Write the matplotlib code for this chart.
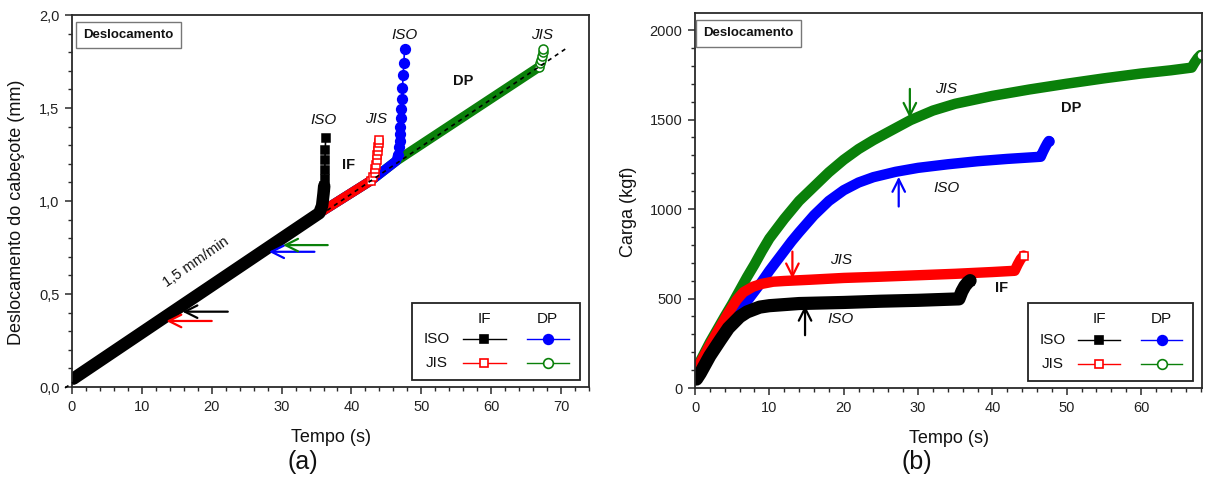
import matplotlib
matplotlib.use('Agg')
import matplotlib.pyplot as plt
from matplotlib.patches import Rectangle
from matplotlib.ticker import MultipleLocator, FuncFormatter

plt.rcParams['font.family'] = ['Liberation Sans', 'DejaVu Sans']

# cores das series
COR_IF_ISO = '#000000'
COR_IF_JIS = '#ff0000'
COR_DP_ISO = '#0000ff'
COR_DP_JIS = '#0a800a'

# ---- (a) deslocamento do cabecote x tempo ----
# IF / ISO
a_if_iso_t = [0.2, 35.4, 35.8, 36.0, 36.1, 36.15, 36.2, 36.2, 36.25, 36.3]
a_if_iso_d = [0.045, 0.935, 0.975, 1.04, 1.08, 1.118, 1.166, 1.22, 1.274, 1.337]
a_if_iso_n = 5      # pontos da faixa (antes dos marcadores)
# IF / JIS
a_if_jis_t = [0.2, 35.4, 42.8, 43.1, 43.3, 43.4, 43.5, 43.6, 43.7, 43.8, 43.85, 43.9, 44.0]
a_if_jis_d = [0.045, 0.935, 1.11, 1.13, 1.15, 1.17, 1.195, 1.22, 1.245, 1.27, 1.29, 1.31, 1.33]
a_if_jis_n = 3
# DP / ISO
a_dp_iso_t = [0.2, 35.4, 42.8, 46.4, 46.7, 46.8, 46.9, 47.0, 47.0, 47.1, 47.15, 47.2, 47.3, 47.4, 47.5, 47.6]
a_dp_iso_d = [0.045, 0.935, 1.11, 1.215, 1.25, 1.288, 1.324, 1.36, 1.40, 1.447, 1.496, 1.55, 1.609, 1.676, 1.744, 1.816]
a_dp_iso_n = 5
# DP / JIS
a_dp_jis_t = [0.2, 35.4, 42.8, 46.4, 66.9, 67.05, 67.15, 67.25, 67.35, 67.4]
a_dp_jis_d = [0.045, 0.935, 1.11, 1.215, 1.722, 1.74, 1.76, 1.78, 1.80, 1.815]
a_dp_jis_n = 5
# reta de 1,5 mm/min
a_ref_t = [-1.0, 70.8]
a_ref_d = [-0.005, 1.822]

# ---- (b) carga x tempo ----
b_if_iso_t = [0.2, 0.7, 2.0, 3.4, 4.5, 6.0, 7.0, 8.7, 10.0, 12.0, 14.0, 20.0, 25.0, 30.0, 35.5, 35.9, 36.3, 36.7, 37.0]
b_if_iso_c = [50, 82, 180, 268, 335, 398, 425, 452, 460, 466, 472, 478, 485, 490, 498, 540, 570, 590, 600]

b_if_jis_t = [0.2, 0.7, 2.0, 3.4, 4.5, 5.6, 6.5, 7.8, 9.0, 10.5, 12.0, 15.5, 20.0, 25.0, 30.0, 35.0, 40.0, 43.0, 43.4, 43.8, 44.2]
b_if_jis_c = [110, 140, 240, 342, 420, 492, 535, 566, 582, 594, 598, 605, 615, 622, 630, 638, 648, 655, 690, 720, 740]

b_dp_iso_t = [0.3, 2, 4, 5, 6, 7, 8, 9, 10, 11, 12, 13, 14, 16, 18, 20, 22, 24, 27, 30, 34, 38, 42, 46.5, 46.8, 47.1, 47.4, 47.6]
b_dp_iso_c = [60, 190, 320, 380, 436, 485, 540, 595, 655, 710, 765, 820, 870, 965, 1045, 1105, 1148, 1178, 1208, 1230, 1250, 1267, 1280, 1292, 1320, 1345, 1368, 1380]

b_dp_jis_t = [0.2, 2, 4, 5, 6, 7, 8, 9, 10, 11, 12, 13, 14, 16, 18, 20, 22, 24, 26, 29, 32, 35, 40, 45, 50, 55, 60, 64, 66.8, 67.2, 67.6, 68.0]
b_dp_jis_c = [110, 255, 400, 470, 545, 620, 690, 765, 835, 890, 945, 995, 1045, 1125, 1205, 1275, 1335, 1385, 1430, 1497, 1550, 1588, 1632, 1668, 1700, 1730, 1757, 1775, 1790, 1818, 1842, 1860]

fig = plt.figure(figsize=(12.06, 4.84), dpi=100)
ax1 = fig.add_axes([0.0597, 0.2004, 0.4287, 0.7686])
ax2 = fig.add_axes([0.5763, 0.1983, 0.4204, 0.7748])


def estilo_eixos(ax):
    for s in ax.spines.values():
        s.set_color('#2a2a2a')
        s.set_linewidth(1.3)
    ax.tick_params(which='both', direction='out', top=False, right=False,
                   color='#2a2a2a', labelsize=10.5, labelcolor='#222222')
    ax.tick_params(which='major', length=5, width=1.1, pad=4)
    ax.tick_params(which='minor', length=3, width=1.0)


def caixa_titulo(ax, x):
    ax.text(x, 0.946, 'Deslocamento', transform=ax.transAxes, fontsize=9.5,
            fontweight='bold', ha='left', va='center', color='#111111', zorder=6,
            bbox=dict(boxstyle='square,pad=0.55', fc='white', ec='#777777', lw=1.0))


def legenda(ax):
    ax.add_patch(Rectangle((0.657, 0.020), 0.326, 0.206, transform=ax.transAxes,
                           fc='white', ec='#222222', lw=1.3, zorder=5))
    kw = dict(transform=ax.transAxes, fontsize=11, ha='center', va='center',
              color='#111111', zorder=6)
    ax.text(0.798, 0.183, 'IF', **kw)
    ax.text(0.920, 0.183, 'DP', **kw)
    ax.text(0.705, 0.128, 'ISO', **kw)
    ax.text(0.705, 0.064, 'JIS', **kw)
    itens = [(0.756, 0.839, 0.128, COR_IF_ISO, 's', COR_IF_ISO, 6),
             (0.880, 0.961, 0.128, COR_DP_ISO, 'o', COR_DP_ISO, 7),
             (0.756, 0.839, 0.064, COR_IF_JIS, 's', 'white', 6),
             (0.880, 0.961, 0.064, COR_DP_JIS, 'o', 'white', 7)]
    for x0, x1, y, cor, mk, mfc, ms in itens:
        ax.plot([x0, (x0 + x1) / 2, x1], [y, y, y], transform=ax.transAxes,
                color=cor, lw=1.0, marker=mk, markevery=[1], mfc=mfc, mec=cor,
                ms=ms, mew=1.2, zorder=6, clip_on=False)


def seta(ax, xy, xytext, cor):
    ax.annotate('', xy=xy, xytext=xytext,
                arrowprops=dict(arrowstyle='->,head_length=0.6,head_width=0.3',
                                color=cor, lw=1.6, mutation_scale=15,
                                shrinkA=0, shrinkB=0), zorder=7)


# ---------------- painel (a) ----------------
estilo_eixos(ax1)
series_a = [(a_dp_jis_t, a_dp_jis_d, a_dp_jis_n, COR_DP_JIS, 'o', 'white', 6.5),
            (a_dp_iso_t, a_dp_iso_d, a_dp_iso_n, COR_DP_ISO, 'o', COR_DP_ISO, 7),
            (a_if_jis_t, a_if_jis_d, a_if_jis_n, COR_IF_JIS, 's', 'white', 5.5),
            (a_if_iso_t, a_if_iso_d, a_if_iso_n, COR_IF_ISO, 's', COR_IF_ISO, 5.5)]
for t, d, n, cor, mk, mfc, ms in series_a:
    lw = 9 if cor == COR_IF_ISO else 7
    ax1.plot(t[:n], d[:n], color=cor, lw=lw, solid_capstyle='round',
             solid_joinstyle='round')
    ax1.plot(t[n - 1:], d[n - 1:], color=cor, lw=1.2, marker=mk, mfc=mfc,
             mec=cor, ms=ms, mew=1.1)
ax1.plot(a_ref_t, a_ref_d, color='black', lw=1.2, ls=(0, (2.5, 2.5)),
         zorder=4, clip_on=False)

seta(ax1, (15.8, 0.405), (22.3, 0.405), COR_IF_ISO)
seta(ax1, (13.5, 0.355), (20.0, 0.355), COR_IF_JIS)
seta(ax1, (28.2, 0.727), (34.7, 0.727), COR_DP_ISO)
seta(ax1, (30.2, 0.763), (36.6, 0.763), COR_DP_JIS)

it = dict(fontsize=11, style='italic', ha='center', va='center', color='#111111')
bd = dict(fontsize=10.5, fontweight='bold', ha='center', va='center', color='#111111')
ax1.text(36.0, 1.437, 'ISO', **it)
ax1.text(43.5, 1.44, 'JIS', **it)
ax1.text(47.6, 1.893, 'ISO', **it)
ax1.text(67.3, 1.893, 'JIS', **it)
ax1.text(39.6, 1.196, 'IF', **bd)
ax1.text(56.0, 1.643, 'DP', **bd)
ax1.text(17.7, 0.67, '1,5 mm/min', fontsize=10.5, rotation=35, ha='center',
         va='center', color='#111111')

ax1.set_xlim(0, 74)
ax1.set_ylim(0, 2.0)
ax1.xaxis.set_major_locator(MultipleLocator(10))
ax1.xaxis.set_minor_locator(MultipleLocator(2))
ax1.yaxis.set_major_locator(MultipleLocator(0.5))
ax1.yaxis.set_minor_locator(MultipleLocator(0.1))
ax1.yaxis.set_major_formatter(FuncFormatter(lambda v, p: f'{v:.1f}'.replace('.', ',')))
ax1.set_xlabel('Tempo (s)', fontsize=13, color='#111111')
ax1.set_ylabel('Deslocamento do cabeçote (mm)', fontsize=13, color='#111111')
ax1.xaxis.set_label_coords(0.5, -0.113)
ax1.yaxis.set_label_coords(-0.091, 0.47)
caixa_titulo(ax1, 0.022)
legenda(ax1)

# ---------------- painel (b) ----------------
estilo_eixos(ax2)
series_b = [(b_dp_jis_t, b_dp_jis_c, COR_DP_JIS, 'o', 'white', 6.5, 7.5),
            (b_dp_iso_t, b_dp_iso_c, COR_DP_ISO, 'o', COR_DP_ISO, 6.5, 7.5),
            (b_if_jis_t, b_if_jis_c, COR_IF_JIS, 's', 'white', 5.5, 7.5),
            (b_if_iso_t, b_if_iso_c, COR_IF_ISO, 's', COR_IF_ISO, 5.5, 9.5)]
for t, c, cor, mk, mfc, ms, lw in series_b:
    ax2.plot(t, c, color=cor, lw=lw, solid_capstyle='round', solid_joinstyle='round')
    ax2.plot(t[-1:], c[-1:], ls='none', marker=mk, mfc=mfc, mec=cor, ms=ms, mew=1.1)

seta(ax2, (14.8, 460), (14.8, 295), COR_IF_ISO)
seta(ax2, (27.4, 1180), (27.4, 1014), COR_DP_ISO)
seta(ax2, (13.1, 612), (13.1, 762), COR_IF_JIS)
seta(ax2, (28.9, 1509), (28.9, 1671), COR_DP_JIS)

ax2.text(33.8, 1668, 'JIS', **it)
ax2.text(33.8, 1117, 'ISO', **it)
ax2.text(19.6, 715, 'JIS', **it)
ax2.text(19.6, 383, 'ISO', **it)
ax2.text(50.6, 1565, 'DP', **bd)
ax2.text(41.3, 556, 'IF', **bd)

ax2.set_xlim(0, 68.2)
ax2.set_ylim(0, 2095)
ax2.xaxis.set_major_locator(MultipleLocator(10))
ax2.xaxis.set_minor_locator(MultipleLocator(2))
ax2.yaxis.set_major_locator(MultipleLocator(500))
ax2.yaxis.set_minor_locator(MultipleLocator(100))
ax2.set_xlabel('Tempo (s)', fontsize=13, color='#111111')
ax2.set_ylabel('Carga (kgf)', fontsize=13, color='#111111')
ax2.xaxis.set_label_coords(0.5, -0.112)
ax2.yaxis.set_label_coords(-0.114, 0.47)
caixa_titulo(ax2, 0.016)
legenda(ax2)

fig.text(0.251, 0.045, '(a)', fontsize=18, ha='center', va='center', color='#111111')
fig.text(0.760, 0.045, '(b)', fontsize=18, ha='center', va='center', color='#111111')

fig.savefig('out.png', dpi=100)
